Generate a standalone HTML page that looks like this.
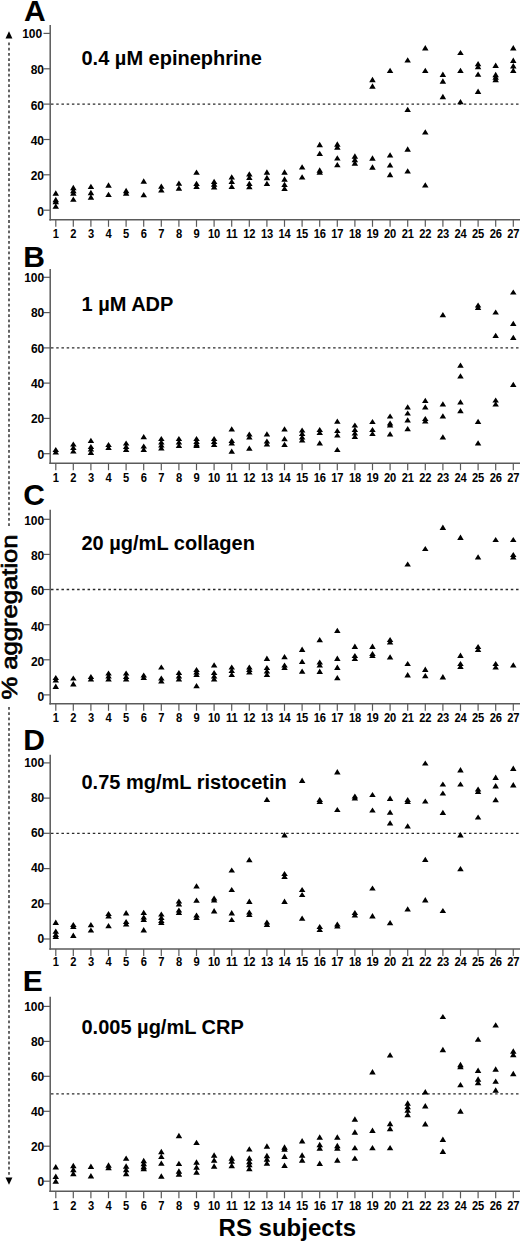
<!DOCTYPE html>
<html><head><meta charset="utf-8"><style>
html,body{margin:0;padding:0;background:#fff;}
body{width:520px;height:1241px;overflow:hidden;}
svg{display:block;}
text{font-family:"Liberation Sans", sans-serif;}
</style></head><body>
<svg width="520" height="1241" viewBox="0 0 520 1241">
<rect width="520" height="1241" fill="#fff"/>
<text transform="translate(23.9,20.8)" font-size="30" font-weight="bold" fill="#000">A</text>
<line x1="50.2" y1="25.0" x2="50.2" y2="220.6" stroke="#5a5a5a" stroke-width="1.5"/>
<line x1="49.4" y1="219.8" x2="520" y2="219.8" stroke="#5a5a5a" stroke-width="1.5"/>
<line x1="43.5" y1="210.2" x2="50" y2="210.2" stroke="#5a5a5a" stroke-width="1.2"/>
<text x="44.0" y="215.8" font-size="12" font-weight="bold" text-anchor="end" fill="#000">0</text>
<line x1="43.5" y1="174.8" x2="50" y2="174.8" stroke="#5a5a5a" stroke-width="1.2"/>
<text x="44.0" y="180.4" font-size="12" font-weight="bold" text-anchor="end" fill="#000">20</text>
<line x1="43.5" y1="139.5" x2="50" y2="139.5" stroke="#5a5a5a" stroke-width="1.2"/>
<text x="44.0" y="145.1" font-size="12" font-weight="bold" text-anchor="end" fill="#000">40</text>
<line x1="43.5" y1="104.1" x2="50" y2="104.1" stroke="#5a5a5a" stroke-width="1.2"/>
<text x="44.0" y="109.7" font-size="12" font-weight="bold" text-anchor="end" fill="#000">60</text>
<line x1="43.5" y1="68.8" x2="50" y2="68.8" stroke="#5a5a5a" stroke-width="1.2"/>
<text x="44.0" y="74.4" font-size="12" font-weight="bold" text-anchor="end" fill="#000">80</text>
<line x1="43.5" y1="33.4" x2="50" y2="33.4" stroke="#5a5a5a" stroke-width="1.2"/>
<text x="42.2" y="37.9" font-size="12" font-weight="bold" text-anchor="end" fill="#000">100</text>
<line x1="55.8" y1="219.8" x2="55.8" y2="226.8" stroke="#5a5a5a" stroke-width="1.2"/>
<text transform="translate(55.8,238.4) scale(0.93,1)" font-size="12" font-weight="bold" text-anchor="middle" fill="#000" letter-spacing="-0.2">1</text>
<line x1="73.3" y1="219.8" x2="73.3" y2="226.8" stroke="#5a5a5a" stroke-width="1.2"/>
<text transform="translate(73.3,238.4) scale(0.93,1)" font-size="12" font-weight="bold" text-anchor="middle" fill="#000" letter-spacing="-0.2">2</text>
<line x1="90.9" y1="219.8" x2="90.9" y2="226.8" stroke="#5a5a5a" stroke-width="1.2"/>
<text transform="translate(90.9,238.4) scale(0.93,1)" font-size="12" font-weight="bold" text-anchor="middle" fill="#000" letter-spacing="-0.2">3</text>
<line x1="108.5" y1="219.8" x2="108.5" y2="226.8" stroke="#5a5a5a" stroke-width="1.2"/>
<text transform="translate(108.5,238.4) scale(0.93,1)" font-size="12" font-weight="bold" text-anchor="middle" fill="#000" letter-spacing="-0.2">4</text>
<line x1="126.1" y1="219.8" x2="126.1" y2="226.8" stroke="#5a5a5a" stroke-width="1.2"/>
<text transform="translate(126.1,238.4) scale(0.93,1)" font-size="12" font-weight="bold" text-anchor="middle" fill="#000" letter-spacing="-0.2">5</text>
<line x1="143.7" y1="219.8" x2="143.7" y2="226.8" stroke="#5a5a5a" stroke-width="1.2"/>
<text transform="translate(143.7,238.4) scale(0.93,1)" font-size="12" font-weight="bold" text-anchor="middle" fill="#000" letter-spacing="-0.2">6</text>
<line x1="161.3" y1="219.8" x2="161.3" y2="226.8" stroke="#5a5a5a" stroke-width="1.2"/>
<text transform="translate(161.3,238.4) scale(0.93,1)" font-size="12" font-weight="bold" text-anchor="middle" fill="#000" letter-spacing="-0.2">7</text>
<line x1="178.9" y1="219.8" x2="178.9" y2="226.8" stroke="#5a5a5a" stroke-width="1.2"/>
<text transform="translate(178.9,238.4) scale(0.93,1)" font-size="12" font-weight="bold" text-anchor="middle" fill="#000" letter-spacing="-0.2">8</text>
<line x1="196.5" y1="219.8" x2="196.5" y2="226.8" stroke="#5a5a5a" stroke-width="1.2"/>
<text transform="translate(196.5,238.4) scale(0.93,1)" font-size="12" font-weight="bold" text-anchor="middle" fill="#000" letter-spacing="-0.2">9</text>
<line x1="214.1" y1="219.8" x2="214.1" y2="226.8" stroke="#5a5a5a" stroke-width="1.2"/>
<text transform="translate(214.1,238.4) scale(0.93,1)" font-size="12" font-weight="bold" text-anchor="middle" fill="#000" letter-spacing="-0.2">10</text>
<line x1="231.7" y1="219.8" x2="231.7" y2="226.8" stroke="#5a5a5a" stroke-width="1.2"/>
<text transform="translate(231.7,238.4) scale(0.93,1)" font-size="12" font-weight="bold" text-anchor="middle" fill="#000" letter-spacing="-0.2">11</text>
<line x1="249.3" y1="219.8" x2="249.3" y2="226.8" stroke="#5a5a5a" stroke-width="1.2"/>
<text transform="translate(249.3,238.4) scale(0.93,1)" font-size="12" font-weight="bold" text-anchor="middle" fill="#000" letter-spacing="-0.2">12</text>
<line x1="266.9" y1="219.8" x2="266.9" y2="226.8" stroke="#5a5a5a" stroke-width="1.2"/>
<text transform="translate(266.9,238.4) scale(0.93,1)" font-size="12" font-weight="bold" text-anchor="middle" fill="#000" letter-spacing="-0.2">13</text>
<line x1="284.5" y1="219.8" x2="284.5" y2="226.8" stroke="#5a5a5a" stroke-width="1.2"/>
<text transform="translate(284.5,238.4) scale(0.93,1)" font-size="12" font-weight="bold" text-anchor="middle" fill="#000" letter-spacing="-0.2">14</text>
<line x1="302.1" y1="219.8" x2="302.1" y2="226.8" stroke="#5a5a5a" stroke-width="1.2"/>
<text transform="translate(302.1,238.4) scale(0.93,1)" font-size="12" font-weight="bold" text-anchor="middle" fill="#000" letter-spacing="-0.2">15</text>
<line x1="319.7" y1="219.8" x2="319.7" y2="226.8" stroke="#5a5a5a" stroke-width="1.2"/>
<text transform="translate(319.7,238.4) scale(0.93,1)" font-size="12" font-weight="bold" text-anchor="middle" fill="#000" letter-spacing="-0.2">16</text>
<line x1="337.3" y1="219.8" x2="337.3" y2="226.8" stroke="#5a5a5a" stroke-width="1.2"/>
<text transform="translate(337.3,238.4) scale(0.93,1)" font-size="12" font-weight="bold" text-anchor="middle" fill="#000" letter-spacing="-0.2">17</text>
<line x1="354.9" y1="219.8" x2="354.9" y2="226.8" stroke="#5a5a5a" stroke-width="1.2"/>
<text transform="translate(354.9,238.4) scale(0.93,1)" font-size="12" font-weight="bold" text-anchor="middle" fill="#000" letter-spacing="-0.2">18</text>
<line x1="372.5" y1="219.8" x2="372.5" y2="226.8" stroke="#5a5a5a" stroke-width="1.2"/>
<text transform="translate(372.5,238.4) scale(0.93,1)" font-size="12" font-weight="bold" text-anchor="middle" fill="#000" letter-spacing="-0.2">19</text>
<line x1="390.1" y1="219.8" x2="390.1" y2="226.8" stroke="#5a5a5a" stroke-width="1.2"/>
<text transform="translate(390.1,238.4) scale(0.93,1)" font-size="12" font-weight="bold" text-anchor="middle" fill="#000" letter-spacing="-0.2">20</text>
<line x1="407.7" y1="219.8" x2="407.7" y2="226.8" stroke="#5a5a5a" stroke-width="1.2"/>
<text transform="translate(407.7,238.4) scale(0.93,1)" font-size="12" font-weight="bold" text-anchor="middle" fill="#000" letter-spacing="-0.2">21</text>
<line x1="425.3" y1="219.8" x2="425.3" y2="226.8" stroke="#5a5a5a" stroke-width="1.2"/>
<text transform="translate(425.3,238.4) scale(0.93,1)" font-size="12" font-weight="bold" text-anchor="middle" fill="#000" letter-spacing="-0.2">22</text>
<line x1="442.9" y1="219.8" x2="442.9" y2="226.8" stroke="#5a5a5a" stroke-width="1.2"/>
<text transform="translate(442.9,238.4) scale(0.93,1)" font-size="12" font-weight="bold" text-anchor="middle" fill="#000" letter-spacing="-0.2">23</text>
<line x1="460.5" y1="219.8" x2="460.5" y2="226.8" stroke="#5a5a5a" stroke-width="1.2"/>
<text transform="translate(460.5,238.4) scale(0.93,1)" font-size="12" font-weight="bold" text-anchor="middle" fill="#000" letter-spacing="-0.2">24</text>
<line x1="478.1" y1="219.8" x2="478.1" y2="226.8" stroke="#5a5a5a" stroke-width="1.2"/>
<text transform="translate(478.1,238.4) scale(0.93,1)" font-size="12" font-weight="bold" text-anchor="middle" fill="#000" letter-spacing="-0.2">25</text>
<line x1="495.7" y1="219.8" x2="495.7" y2="226.8" stroke="#5a5a5a" stroke-width="1.2"/>
<text transform="translate(495.7,238.4) scale(0.93,1)" font-size="12" font-weight="bold" text-anchor="middle" fill="#000" letter-spacing="-0.2">26</text>
<line x1="513.3" y1="219.8" x2="513.3" y2="226.8" stroke="#5a5a5a" stroke-width="1.2"/>
<text transform="translate(513.3,238.4) scale(0.93,1)" font-size="12" font-weight="bold" text-anchor="middle" fill="#000" letter-spacing="-0.2">27</text>
<line x1="51" y1="104.1" x2="520" y2="104.1" stroke="#2a2a2a" stroke-width="1.3" stroke-dasharray="2.5 2.725"/>
<text x="81.5" y="65.4" font-size="20" font-weight="bold" fill="#000">0.4 µM epinephrine</text>
<path d="M55.8 190.3L59.0 195.7L52.5 195.7ZM55.8 196.8L59.0 202.2L52.5 202.2ZM55.8 198.8L59.0 204.2L52.5 204.2ZM55.8 203.5L59.0 208.8L52.5 208.8ZM73.3 184.8L76.6 190.2L70.1 190.2ZM73.3 187.8L76.6 193.2L70.1 193.2ZM73.3 190.3L76.6 195.7L70.1 195.7ZM73.3 196.5L76.6 201.8L70.1 201.8ZM90.9 183.7L94.2 189.0L87.7 189.0ZM90.9 189.8L94.2 195.2L87.7 195.2ZM90.9 194.3L94.2 199.7L87.7 199.7ZM108.5 182.3L111.8 187.7L105.3 187.7ZM108.5 191.8L111.8 197.1L105.3 197.1ZM126.1 187.8L129.4 193.2L122.9 193.2ZM126.1 190.3L129.4 195.7L122.9 195.7ZM143.7 178.3L147.0 183.7L140.5 183.7ZM143.7 192.0L147.0 197.3L140.5 197.3ZM161.3 183.4L164.6 188.8L158.1 188.8ZM161.3 187.2L164.6 192.6L158.1 192.6ZM178.9 180.5L182.2 185.8L175.7 185.8ZM178.9 185.3L182.2 190.7L175.7 190.7ZM196.5 169.4L199.8 174.8L193.3 174.8ZM196.5 180.8L199.8 186.1L193.3 186.1ZM196.5 183.8L199.8 189.1L193.3 189.1ZM214.1 178.7L217.4 184.0L210.9 184.0ZM214.1 181.3L217.4 186.7L210.9 186.7ZM214.1 184.2L217.4 189.5L210.9 189.5ZM231.7 174.2L235.0 179.5L228.5 179.5ZM231.7 178.8L235.0 184.1L228.5 184.1ZM231.7 183.7L235.0 189.0L228.5 189.0ZM249.3 171.2L252.6 176.5L246.1 176.5ZM249.3 174.7L252.6 180.0L246.1 180.0ZM249.3 180.7L252.6 186.0L246.1 186.0ZM249.3 184.0L252.6 189.3L246.1 189.3ZM266.9 169.3L270.2 174.7L263.7 174.7ZM266.9 174.8L270.2 180.2L263.7 180.2ZM266.9 180.8L270.2 186.1L263.7 186.1ZM284.5 169.3L287.8 174.7L281.3 174.7ZM284.5 176.3L287.8 181.7L281.3 181.7ZM284.5 181.8L287.8 187.1L281.3 187.1ZM284.5 185.7L287.8 191.0L281.3 191.0ZM302.1 164.2L305.4 169.5L298.9 169.5ZM302.1 174.2L305.4 179.5L298.9 179.5ZM319.7 141.8L323.0 147.2L316.5 147.2ZM319.7 150.7L323.0 156.0L316.5 156.0ZM319.7 167.3L323.0 172.7L316.5 172.7ZM319.7 169.3L323.0 174.7L316.5 174.7ZM337.3 141.3L340.6 146.7L334.1 146.7ZM337.3 144.3L340.6 149.7L334.1 149.7ZM337.3 155.2L340.6 160.5L334.1 160.5ZM337.3 161.9L340.6 167.2L334.1 167.2ZM354.9 153.3L358.1 158.7L351.6 158.7ZM354.9 156.8L358.1 162.2L351.6 162.2ZM354.9 160.3L358.1 165.7L351.6 165.7ZM372.5 76.8L375.7 82.2L369.2 82.2ZM372.5 83.3L375.7 88.7L369.2 88.7ZM372.5 155.3L375.7 160.7L369.2 160.7ZM372.5 164.3L375.7 169.7L369.2 169.7ZM390.1 67.8L393.3 73.1L386.8 73.1ZM390.1 152.2L393.3 157.6L386.8 157.6ZM390.1 162.2L393.3 167.6L386.8 167.6ZM390.1 171.8L393.3 177.2L386.8 177.2ZM407.7 57.2L410.9 62.5L404.4 62.5ZM407.7 106.8L410.9 112.1L404.4 112.1ZM407.7 146.3L410.9 151.7L404.4 151.7ZM407.7 168.2L410.9 173.6L404.4 173.6ZM425.3 45.1L428.5 50.4L422.0 50.4ZM425.3 67.8L428.5 73.1L422.0 73.1ZM425.3 129.2L428.5 134.6L422.0 134.6ZM425.3 182.2L428.5 187.5L422.0 187.5ZM442.9 71.6L446.1 77.0L439.6 77.0ZM442.9 78.3L446.1 83.7L439.6 83.7ZM442.9 93.8L446.1 99.2L439.6 99.2ZM460.5 49.9L463.7 55.1L457.2 55.1ZM460.5 67.8L463.7 73.1L457.2 73.1ZM460.5 98.9L463.7 104.2L457.2 104.2ZM478.1 60.9L481.3 66.2L474.8 66.2ZM478.1 63.9L481.3 69.2L474.8 69.2ZM478.1 71.4L481.3 76.8L474.8 76.8ZM478.1 88.5L481.3 93.9L474.8 93.9ZM495.7 62.6L498.9 68.0L492.4 68.0ZM495.7 71.8L498.9 77.2L492.4 77.2ZM495.7 74.3L498.9 79.7L492.4 79.7ZM495.7 76.8L498.9 82.2L492.4 82.2ZM513.3 45.1L516.5 50.4L510.0 50.4ZM513.3 57.6L516.5 62.9L510.0 62.9ZM513.3 63.1L516.5 68.4L510.0 68.4ZM513.3 67.8L516.5 73.1L510.0 73.1Z" fill="#000"/>
<text transform="translate(23.3,266.9)" font-size="30" font-weight="bold" fill="#000">B</text>
<line x1="50.2" y1="269.0" x2="50.2" y2="463.9" stroke="#5a5a5a" stroke-width="1.5"/>
<line x1="49.4" y1="463.2" x2="520" y2="463.2" stroke="#5a5a5a" stroke-width="1.5"/>
<line x1="43.5" y1="453.7" x2="50" y2="453.7" stroke="#5a5a5a" stroke-width="1.2"/>
<text x="44.3" y="458.5" font-size="12" font-weight="bold" text-anchor="end" fill="#000">0</text>
<line x1="43.5" y1="418.4" x2="50" y2="418.4" stroke="#5a5a5a" stroke-width="1.2"/>
<text x="44.3" y="423.2" font-size="12" font-weight="bold" text-anchor="end" fill="#000">20</text>
<line x1="43.5" y1="383.1" x2="50" y2="383.1" stroke="#5a5a5a" stroke-width="1.2"/>
<text x="44.3" y="387.9" font-size="12" font-weight="bold" text-anchor="end" fill="#000">40</text>
<line x1="43.5" y1="347.9" x2="50" y2="347.9" stroke="#5a5a5a" stroke-width="1.2"/>
<text x="44.3" y="352.7" font-size="12" font-weight="bold" text-anchor="end" fill="#000">60</text>
<line x1="43.5" y1="312.6" x2="50" y2="312.6" stroke="#5a5a5a" stroke-width="1.2"/>
<text x="44.3" y="317.4" font-size="12" font-weight="bold" text-anchor="end" fill="#000">80</text>
<line x1="43.5" y1="277.3" x2="50" y2="277.3" stroke="#5a5a5a" stroke-width="1.2"/>
<text x="44.2" y="282.1" font-size="12" font-weight="bold" text-anchor="end" fill="#000">100</text>
<line x1="55.8" y1="463.2" x2="55.8" y2="470.2" stroke="#5a5a5a" stroke-width="1.2"/>
<text transform="translate(55.8,482.2) scale(0.93,1)" font-size="12" font-weight="bold" text-anchor="middle" fill="#000" letter-spacing="-0.2">1</text>
<line x1="73.3" y1="463.2" x2="73.3" y2="470.2" stroke="#5a5a5a" stroke-width="1.2"/>
<text transform="translate(73.3,482.2) scale(0.93,1)" font-size="12" font-weight="bold" text-anchor="middle" fill="#000" letter-spacing="-0.2">2</text>
<line x1="90.9" y1="463.2" x2="90.9" y2="470.2" stroke="#5a5a5a" stroke-width="1.2"/>
<text transform="translate(90.9,482.2) scale(0.93,1)" font-size="12" font-weight="bold" text-anchor="middle" fill="#000" letter-spacing="-0.2">3</text>
<line x1="108.5" y1="463.2" x2="108.5" y2="470.2" stroke="#5a5a5a" stroke-width="1.2"/>
<text transform="translate(108.5,482.2) scale(0.93,1)" font-size="12" font-weight="bold" text-anchor="middle" fill="#000" letter-spacing="-0.2">4</text>
<line x1="126.1" y1="463.2" x2="126.1" y2="470.2" stroke="#5a5a5a" stroke-width="1.2"/>
<text transform="translate(126.1,482.2) scale(0.93,1)" font-size="12" font-weight="bold" text-anchor="middle" fill="#000" letter-spacing="-0.2">5</text>
<line x1="143.7" y1="463.2" x2="143.7" y2="470.2" stroke="#5a5a5a" stroke-width="1.2"/>
<text transform="translate(143.7,482.2) scale(0.93,1)" font-size="12" font-weight="bold" text-anchor="middle" fill="#000" letter-spacing="-0.2">6</text>
<line x1="161.3" y1="463.2" x2="161.3" y2="470.2" stroke="#5a5a5a" stroke-width="1.2"/>
<text transform="translate(161.3,482.2) scale(0.93,1)" font-size="12" font-weight="bold" text-anchor="middle" fill="#000" letter-spacing="-0.2">7</text>
<line x1="178.9" y1="463.2" x2="178.9" y2="470.2" stroke="#5a5a5a" stroke-width="1.2"/>
<text transform="translate(178.9,482.2) scale(0.93,1)" font-size="12" font-weight="bold" text-anchor="middle" fill="#000" letter-spacing="-0.2">8</text>
<line x1="196.5" y1="463.2" x2="196.5" y2="470.2" stroke="#5a5a5a" stroke-width="1.2"/>
<text transform="translate(196.5,482.2) scale(0.93,1)" font-size="12" font-weight="bold" text-anchor="middle" fill="#000" letter-spacing="-0.2">9</text>
<line x1="214.1" y1="463.2" x2="214.1" y2="470.2" stroke="#5a5a5a" stroke-width="1.2"/>
<text transform="translate(214.1,482.2) scale(0.93,1)" font-size="12" font-weight="bold" text-anchor="middle" fill="#000" letter-spacing="-0.2">10</text>
<line x1="231.7" y1="463.2" x2="231.7" y2="470.2" stroke="#5a5a5a" stroke-width="1.2"/>
<text transform="translate(231.7,482.2) scale(0.93,1)" font-size="12" font-weight="bold" text-anchor="middle" fill="#000" letter-spacing="-0.2">11</text>
<line x1="249.3" y1="463.2" x2="249.3" y2="470.2" stroke="#5a5a5a" stroke-width="1.2"/>
<text transform="translate(249.3,482.2) scale(0.93,1)" font-size="12" font-weight="bold" text-anchor="middle" fill="#000" letter-spacing="-0.2">12</text>
<line x1="266.9" y1="463.2" x2="266.9" y2="470.2" stroke="#5a5a5a" stroke-width="1.2"/>
<text transform="translate(266.9,482.2) scale(0.93,1)" font-size="12" font-weight="bold" text-anchor="middle" fill="#000" letter-spacing="-0.2">13</text>
<line x1="284.5" y1="463.2" x2="284.5" y2="470.2" stroke="#5a5a5a" stroke-width="1.2"/>
<text transform="translate(284.5,482.2) scale(0.93,1)" font-size="12" font-weight="bold" text-anchor="middle" fill="#000" letter-spacing="-0.2">14</text>
<line x1="302.1" y1="463.2" x2="302.1" y2="470.2" stroke="#5a5a5a" stroke-width="1.2"/>
<text transform="translate(302.1,482.2) scale(0.93,1)" font-size="12" font-weight="bold" text-anchor="middle" fill="#000" letter-spacing="-0.2">15</text>
<line x1="319.7" y1="463.2" x2="319.7" y2="470.2" stroke="#5a5a5a" stroke-width="1.2"/>
<text transform="translate(319.7,482.2) scale(0.93,1)" font-size="12" font-weight="bold" text-anchor="middle" fill="#000" letter-spacing="-0.2">16</text>
<line x1="337.3" y1="463.2" x2="337.3" y2="470.2" stroke="#5a5a5a" stroke-width="1.2"/>
<text transform="translate(337.3,482.2) scale(0.93,1)" font-size="12" font-weight="bold" text-anchor="middle" fill="#000" letter-spacing="-0.2">17</text>
<line x1="354.9" y1="463.2" x2="354.9" y2="470.2" stroke="#5a5a5a" stroke-width="1.2"/>
<text transform="translate(354.9,482.2) scale(0.93,1)" font-size="12" font-weight="bold" text-anchor="middle" fill="#000" letter-spacing="-0.2">18</text>
<line x1="372.5" y1="463.2" x2="372.5" y2="470.2" stroke="#5a5a5a" stroke-width="1.2"/>
<text transform="translate(372.5,482.2) scale(0.93,1)" font-size="12" font-weight="bold" text-anchor="middle" fill="#000" letter-spacing="-0.2">19</text>
<line x1="390.1" y1="463.2" x2="390.1" y2="470.2" stroke="#5a5a5a" stroke-width="1.2"/>
<text transform="translate(390.1,482.2) scale(0.93,1)" font-size="12" font-weight="bold" text-anchor="middle" fill="#000" letter-spacing="-0.2">20</text>
<line x1="407.7" y1="463.2" x2="407.7" y2="470.2" stroke="#5a5a5a" stroke-width="1.2"/>
<text transform="translate(407.7,482.2) scale(0.93,1)" font-size="12" font-weight="bold" text-anchor="middle" fill="#000" letter-spacing="-0.2">21</text>
<line x1="425.3" y1="463.2" x2="425.3" y2="470.2" stroke="#5a5a5a" stroke-width="1.2"/>
<text transform="translate(425.3,482.2) scale(0.93,1)" font-size="12" font-weight="bold" text-anchor="middle" fill="#000" letter-spacing="-0.2">22</text>
<line x1="442.9" y1="463.2" x2="442.9" y2="470.2" stroke="#5a5a5a" stroke-width="1.2"/>
<text transform="translate(442.9,482.2) scale(0.93,1)" font-size="12" font-weight="bold" text-anchor="middle" fill="#000" letter-spacing="-0.2">23</text>
<line x1="460.5" y1="463.2" x2="460.5" y2="470.2" stroke="#5a5a5a" stroke-width="1.2"/>
<text transform="translate(460.5,482.2) scale(0.93,1)" font-size="12" font-weight="bold" text-anchor="middle" fill="#000" letter-spacing="-0.2">24</text>
<line x1="478.1" y1="463.2" x2="478.1" y2="470.2" stroke="#5a5a5a" stroke-width="1.2"/>
<text transform="translate(478.1,482.2) scale(0.93,1)" font-size="12" font-weight="bold" text-anchor="middle" fill="#000" letter-spacing="-0.2">25</text>
<line x1="495.7" y1="463.2" x2="495.7" y2="470.2" stroke="#5a5a5a" stroke-width="1.2"/>
<text transform="translate(495.7,482.2) scale(0.93,1)" font-size="12" font-weight="bold" text-anchor="middle" fill="#000" letter-spacing="-0.2">26</text>
<line x1="513.3" y1="463.2" x2="513.3" y2="470.2" stroke="#5a5a5a" stroke-width="1.2"/>
<text transform="translate(513.3,482.2) scale(0.93,1)" font-size="12" font-weight="bold" text-anchor="middle" fill="#000" letter-spacing="-0.2">27</text>
<line x1="51" y1="347.9" x2="520" y2="347.9" stroke="#2a2a2a" stroke-width="1.3" stroke-dasharray="2.5 2.725"/>
<text x="81.5" y="310.6" font-size="20" font-weight="bold" fill="#000">1 µM ADP</text>
<path d="M55.8 446.9L59.0 452.1L52.5 452.1ZM55.8 449.4L59.0 454.6L52.5 454.6ZM73.3 441.4L76.6 446.6L70.1 446.6ZM73.3 444.9L76.6 450.1L70.1 450.1ZM73.3 448.4L76.6 453.6L70.1 453.6ZM90.9 437.7L94.2 442.9L87.7 442.9ZM90.9 443.9L94.2 449.1L87.7 449.1ZM90.9 446.4L94.2 451.6L87.7 451.6ZM90.9 449.7L94.2 454.9L87.7 454.9ZM108.5 441.9L111.8 447.1L105.3 447.1ZM108.5 444.9L111.8 450.1L105.3 450.1ZM126.1 440.4L129.4 445.6L122.9 445.6ZM126.1 443.9L129.4 449.1L122.9 449.1ZM126.1 446.9L129.4 452.1L122.9 452.1ZM143.7 434.0L147.0 439.2L140.5 439.2ZM143.7 443.4L147.0 448.6L140.5 448.6ZM143.7 446.9L147.0 452.1L140.5 452.1ZM161.3 435.9L164.6 441.1L158.1 441.1ZM161.3 439.4L164.6 444.6L158.1 444.6ZM161.3 442.4L164.6 447.6L158.1 447.6ZM161.3 445.4L164.6 450.6L158.1 450.6ZM178.9 435.9L182.2 441.1L175.7 441.1ZM178.9 439.4L182.2 444.6L175.7 444.6ZM178.9 442.9L182.2 448.1L175.7 448.1ZM196.5 435.9L199.8 441.1L193.3 441.1ZM196.5 438.9L199.8 444.1L193.3 444.1ZM196.5 441.4L199.8 446.6L193.3 446.6ZM196.5 442.9L199.8 448.1L193.3 448.1ZM214.1 435.9L217.4 441.1L210.9 441.1ZM214.1 438.9L217.4 444.1L210.9 444.1ZM214.1 441.9L217.4 447.1L210.9 447.1ZM231.7 426.2L235.0 431.4L228.5 431.4ZM231.7 437.9L235.0 443.1L228.5 443.1ZM231.7 440.4L235.0 445.6L228.5 445.6ZM231.7 448.6L235.0 453.8L228.5 453.8ZM249.3 431.4L252.6 436.6L246.1 436.6ZM249.3 434.4L252.6 439.6L246.1 439.6ZM249.3 445.5L252.6 450.8L246.1 450.8ZM266.9 431.2L270.2 436.4L263.7 436.4ZM266.9 438.4L270.2 443.6L263.7 443.6ZM266.9 441.4L270.2 446.6L263.7 446.6ZM284.5 426.2L287.8 431.4L281.3 431.4ZM284.5 436.1L287.8 441.3L281.3 441.3ZM284.5 441.7L287.8 446.9L281.3 446.9ZM302.1 427.4L305.4 432.6L298.9 432.6ZM302.1 430.9L305.4 436.1L298.9 436.1ZM302.1 434.4L305.4 439.6L298.9 439.6ZM302.1 437.4L305.4 442.6L298.9 442.6ZM319.7 426.9L323.0 432.1L316.5 432.1ZM319.7 429.9L323.0 435.1L316.5 435.1ZM319.7 440.2L323.0 445.4L316.5 445.4ZM337.3 418.5L340.6 423.8L334.1 423.8ZM337.3 427.9L340.6 433.1L334.1 433.1ZM337.3 432.4L340.6 437.6L334.1 437.6ZM337.3 446.9L340.6 452.1L334.1 452.1ZM354.9 422.4L358.1 427.6L351.6 427.6ZM354.9 426.9L358.1 432.1L351.6 432.1ZM354.9 430.4L358.1 435.6L351.6 435.6ZM354.9 433.9L358.1 439.1L351.6 439.1ZM372.5 418.9L375.7 424.1L369.2 424.1ZM372.5 426.9L375.7 432.1L369.2 432.1ZM372.5 430.9L375.7 436.1L369.2 436.1ZM390.1 413.4L393.3 418.6L386.8 418.6ZM390.1 420.4L393.3 425.6L386.8 425.6ZM390.1 422.4L393.3 427.6L386.8 427.6ZM390.1 431.2L393.3 436.4L386.8 436.4ZM407.7 404.2L410.9 409.4L404.4 409.4ZM407.7 410.4L410.9 415.6L404.4 415.6ZM407.7 417.2L410.9 422.4L404.4 422.4ZM407.7 426.1L410.9 431.3L404.4 431.3ZM425.3 397.7L428.5 402.9L422.0 402.9ZM425.3 404.2L428.5 409.5L422.0 409.5ZM425.3 415.9L428.5 421.1L422.0 421.1ZM425.3 418.4L428.5 423.6L422.0 423.6ZM442.9 312.0L446.1 317.2L439.6 317.2ZM442.9 401.2L446.1 406.4L439.6 406.4ZM442.9 413.2L446.1 418.5L439.6 418.5ZM442.9 434.2L446.1 439.5L439.6 439.5ZM460.5 362.5L463.7 367.8L457.2 367.8ZM460.5 373.2L463.7 378.5L457.2 378.5ZM460.5 399.2L463.7 404.4L457.2 404.4ZM460.5 408.1L463.7 413.3L457.2 413.3ZM478.1 302.4L481.3 307.6L474.8 307.6ZM478.1 304.9L481.3 310.1L474.8 310.1ZM478.1 418.7L481.3 423.9L474.8 423.9ZM478.1 440.2L481.3 445.4L474.8 445.4ZM495.7 309.4L498.9 314.6L492.4 314.6ZM495.7 332.7L498.9 337.9L492.4 337.9ZM495.7 397.4L498.9 402.6L492.4 402.6ZM495.7 401.4L498.9 406.6L492.4 406.6ZM513.3 289.4L516.5 294.6L510.0 294.6ZM513.3 320.8L516.5 326.0L510.0 326.0ZM513.3 334.7L516.5 339.9L510.0 339.9ZM513.3 381.7L516.5 386.9L510.0 386.9Z" fill="#000"/>
<text transform="translate(23.3,505.4)" font-size="30" font-weight="bold" fill="#000">C</text>
<line x1="50.2" y1="509.7" x2="50.2" y2="704.5" stroke="#5a5a5a" stroke-width="1.5"/>
<line x1="49.4" y1="703.8" x2="520" y2="703.8" stroke="#5a5a5a" stroke-width="1.5"/>
<line x1="43.5" y1="694.9" x2="50" y2="694.9" stroke="#5a5a5a" stroke-width="1.2"/>
<text x="44.3" y="700.7" font-size="12" font-weight="bold" text-anchor="end" fill="#000">0</text>
<line x1="43.5" y1="659.8" x2="50" y2="659.8" stroke="#5a5a5a" stroke-width="1.2"/>
<text x="44.3" y="665.6" font-size="12" font-weight="bold" text-anchor="end" fill="#000">20</text>
<line x1="43.5" y1="624.7" x2="50" y2="624.7" stroke="#5a5a5a" stroke-width="1.2"/>
<text x="44.3" y="630.5" font-size="12" font-weight="bold" text-anchor="end" fill="#000">40</text>
<line x1="43.5" y1="589.5" x2="50" y2="589.5" stroke="#5a5a5a" stroke-width="1.2"/>
<text x="44.3" y="595.3" font-size="12" font-weight="bold" text-anchor="end" fill="#000">60</text>
<line x1="43.5" y1="554.4" x2="50" y2="554.4" stroke="#5a5a5a" stroke-width="1.2"/>
<text x="44.3" y="560.2" font-size="12" font-weight="bold" text-anchor="end" fill="#000">80</text>
<line x1="43.5" y1="519.3" x2="50" y2="519.3" stroke="#5a5a5a" stroke-width="1.2"/>
<text x="44.2" y="525.1" font-size="12" font-weight="bold" text-anchor="end" fill="#000">100</text>
<line x1="55.8" y1="703.8" x2="55.8" y2="710.8" stroke="#5a5a5a" stroke-width="1.2"/>
<text transform="translate(55.8,722.4) scale(0.93,1)" font-size="12" font-weight="bold" text-anchor="middle" fill="#000" letter-spacing="-0.2">1</text>
<line x1="73.3" y1="703.8" x2="73.3" y2="710.8" stroke="#5a5a5a" stroke-width="1.2"/>
<text transform="translate(73.3,722.4) scale(0.93,1)" font-size="12" font-weight="bold" text-anchor="middle" fill="#000" letter-spacing="-0.2">2</text>
<line x1="90.9" y1="703.8" x2="90.9" y2="710.8" stroke="#5a5a5a" stroke-width="1.2"/>
<text transform="translate(90.9,722.4) scale(0.93,1)" font-size="12" font-weight="bold" text-anchor="middle" fill="#000" letter-spacing="-0.2">3</text>
<line x1="108.5" y1="703.8" x2="108.5" y2="710.8" stroke="#5a5a5a" stroke-width="1.2"/>
<text transform="translate(108.5,722.4) scale(0.93,1)" font-size="12" font-weight="bold" text-anchor="middle" fill="#000" letter-spacing="-0.2">4</text>
<line x1="126.1" y1="703.8" x2="126.1" y2="710.8" stroke="#5a5a5a" stroke-width="1.2"/>
<text transform="translate(126.1,722.4) scale(0.93,1)" font-size="12" font-weight="bold" text-anchor="middle" fill="#000" letter-spacing="-0.2">5</text>
<line x1="143.7" y1="703.8" x2="143.7" y2="710.8" stroke="#5a5a5a" stroke-width="1.2"/>
<text transform="translate(143.7,722.4) scale(0.93,1)" font-size="12" font-weight="bold" text-anchor="middle" fill="#000" letter-spacing="-0.2">6</text>
<line x1="161.3" y1="703.8" x2="161.3" y2="710.8" stroke="#5a5a5a" stroke-width="1.2"/>
<text transform="translate(161.3,722.4) scale(0.93,1)" font-size="12" font-weight="bold" text-anchor="middle" fill="#000" letter-spacing="-0.2">7</text>
<line x1="178.9" y1="703.8" x2="178.9" y2="710.8" stroke="#5a5a5a" stroke-width="1.2"/>
<text transform="translate(178.9,722.4) scale(0.93,1)" font-size="12" font-weight="bold" text-anchor="middle" fill="#000" letter-spacing="-0.2">8</text>
<line x1="196.5" y1="703.8" x2="196.5" y2="710.8" stroke="#5a5a5a" stroke-width="1.2"/>
<text transform="translate(196.5,722.4) scale(0.93,1)" font-size="12" font-weight="bold" text-anchor="middle" fill="#000" letter-spacing="-0.2">9</text>
<line x1="214.1" y1="703.8" x2="214.1" y2="710.8" stroke="#5a5a5a" stroke-width="1.2"/>
<text transform="translate(214.1,722.4) scale(0.93,1)" font-size="12" font-weight="bold" text-anchor="middle" fill="#000" letter-spacing="-0.2">10</text>
<line x1="231.7" y1="703.8" x2="231.7" y2="710.8" stroke="#5a5a5a" stroke-width="1.2"/>
<text transform="translate(231.7,722.4) scale(0.93,1)" font-size="12" font-weight="bold" text-anchor="middle" fill="#000" letter-spacing="-0.2">11</text>
<line x1="249.3" y1="703.8" x2="249.3" y2="710.8" stroke="#5a5a5a" stroke-width="1.2"/>
<text transform="translate(249.3,722.4) scale(0.93,1)" font-size="12" font-weight="bold" text-anchor="middle" fill="#000" letter-spacing="-0.2">12</text>
<line x1="266.9" y1="703.8" x2="266.9" y2="710.8" stroke="#5a5a5a" stroke-width="1.2"/>
<text transform="translate(266.9,722.4) scale(0.93,1)" font-size="12" font-weight="bold" text-anchor="middle" fill="#000" letter-spacing="-0.2">13</text>
<line x1="284.5" y1="703.8" x2="284.5" y2="710.8" stroke="#5a5a5a" stroke-width="1.2"/>
<text transform="translate(284.5,722.4) scale(0.93,1)" font-size="12" font-weight="bold" text-anchor="middle" fill="#000" letter-spacing="-0.2">14</text>
<line x1="302.1" y1="703.8" x2="302.1" y2="710.8" stroke="#5a5a5a" stroke-width="1.2"/>
<text transform="translate(302.1,722.4) scale(0.93,1)" font-size="12" font-weight="bold" text-anchor="middle" fill="#000" letter-spacing="-0.2">15</text>
<line x1="319.7" y1="703.8" x2="319.7" y2="710.8" stroke="#5a5a5a" stroke-width="1.2"/>
<text transform="translate(319.7,722.4) scale(0.93,1)" font-size="12" font-weight="bold" text-anchor="middle" fill="#000" letter-spacing="-0.2">16</text>
<line x1="337.3" y1="703.8" x2="337.3" y2="710.8" stroke="#5a5a5a" stroke-width="1.2"/>
<text transform="translate(337.3,722.4) scale(0.93,1)" font-size="12" font-weight="bold" text-anchor="middle" fill="#000" letter-spacing="-0.2">17</text>
<line x1="354.9" y1="703.8" x2="354.9" y2="710.8" stroke="#5a5a5a" stroke-width="1.2"/>
<text transform="translate(354.9,722.4) scale(0.93,1)" font-size="12" font-weight="bold" text-anchor="middle" fill="#000" letter-spacing="-0.2">18</text>
<line x1="372.5" y1="703.8" x2="372.5" y2="710.8" stroke="#5a5a5a" stroke-width="1.2"/>
<text transform="translate(372.5,722.4) scale(0.93,1)" font-size="12" font-weight="bold" text-anchor="middle" fill="#000" letter-spacing="-0.2">19</text>
<line x1="390.1" y1="703.8" x2="390.1" y2="710.8" stroke="#5a5a5a" stroke-width="1.2"/>
<text transform="translate(390.1,722.4) scale(0.93,1)" font-size="12" font-weight="bold" text-anchor="middle" fill="#000" letter-spacing="-0.2">20</text>
<line x1="407.7" y1="703.8" x2="407.7" y2="710.8" stroke="#5a5a5a" stroke-width="1.2"/>
<text transform="translate(407.7,722.4) scale(0.93,1)" font-size="12" font-weight="bold" text-anchor="middle" fill="#000" letter-spacing="-0.2">21</text>
<line x1="425.3" y1="703.8" x2="425.3" y2="710.8" stroke="#5a5a5a" stroke-width="1.2"/>
<text transform="translate(425.3,722.4) scale(0.93,1)" font-size="12" font-weight="bold" text-anchor="middle" fill="#000" letter-spacing="-0.2">22</text>
<line x1="442.9" y1="703.8" x2="442.9" y2="710.8" stroke="#5a5a5a" stroke-width="1.2"/>
<text transform="translate(442.9,722.4) scale(0.93,1)" font-size="12" font-weight="bold" text-anchor="middle" fill="#000" letter-spacing="-0.2">23</text>
<line x1="460.5" y1="703.8" x2="460.5" y2="710.8" stroke="#5a5a5a" stroke-width="1.2"/>
<text transform="translate(460.5,722.4) scale(0.93,1)" font-size="12" font-weight="bold" text-anchor="middle" fill="#000" letter-spacing="-0.2">24</text>
<line x1="478.1" y1="703.8" x2="478.1" y2="710.8" stroke="#5a5a5a" stroke-width="1.2"/>
<text transform="translate(478.1,722.4) scale(0.93,1)" font-size="12" font-weight="bold" text-anchor="middle" fill="#000" letter-spacing="-0.2">25</text>
<line x1="495.7" y1="703.8" x2="495.7" y2="710.8" stroke="#5a5a5a" stroke-width="1.2"/>
<text transform="translate(495.7,722.4) scale(0.93,1)" font-size="12" font-weight="bold" text-anchor="middle" fill="#000" letter-spacing="-0.2">26</text>
<line x1="513.3" y1="703.8" x2="513.3" y2="710.8" stroke="#5a5a5a" stroke-width="1.2"/>
<text transform="translate(513.3,722.4) scale(0.93,1)" font-size="12" font-weight="bold" text-anchor="middle" fill="#000" letter-spacing="-0.2">27</text>
<line x1="51" y1="589.5" x2="520" y2="589.5" stroke="#2a2a2a" stroke-width="1.3" stroke-dasharray="2.5 2.725"/>
<text x="81.5" y="549.6" font-size="20" font-weight="bold" fill="#000">20 µg/mL collagen</text>
<path d="M55.8 674.9L59.0 680.1L52.5 680.1ZM55.8 677.4L59.0 682.6L52.5 682.6ZM55.8 683.6L59.0 688.9L52.5 688.9ZM73.3 675.4L76.6 680.6L70.1 680.6ZM73.3 681.1L76.6 686.4L70.1 686.4ZM90.9 673.9L94.2 679.1L87.7 679.1ZM90.9 676.4L94.2 681.6L87.7 681.6ZM108.5 670.4L111.8 675.6L105.3 675.6ZM108.5 673.4L111.8 678.6L105.3 678.6ZM108.5 676.4L111.8 681.6L105.3 681.6ZM126.1 670.4L129.4 675.6L122.9 675.6ZM126.1 673.9L129.4 679.1L122.9 679.1ZM126.1 676.4L129.4 681.6L122.9 681.6ZM143.7 672.4L147.0 677.6L140.5 677.6ZM143.7 674.9L147.0 680.1L140.5 680.1ZM161.3 664.4L164.6 669.6L158.1 669.6ZM161.3 675.4L164.6 680.6L158.1 680.6ZM161.3 678.4L164.6 683.6L158.1 683.6ZM178.9 669.9L182.2 675.1L175.7 675.1ZM178.9 673.4L182.2 678.6L175.7 678.6ZM178.9 676.4L182.2 681.6L175.7 681.6ZM196.5 666.9L199.8 672.1L193.3 672.1ZM196.5 669.4L199.8 674.6L193.3 674.6ZM196.5 671.9L199.8 677.1L193.3 677.1ZM196.5 683.0L199.8 688.2L193.3 688.2ZM214.1 662.2L217.4 667.5L210.9 667.5ZM214.1 669.9L217.4 675.1L210.9 675.1ZM214.1 673.4L217.4 678.6L210.9 678.6ZM214.1 676.4L217.4 681.6L210.9 681.6ZM231.7 664.4L235.0 669.6L228.5 669.6ZM231.7 667.9L235.0 673.1L228.5 673.1ZM231.7 671.9L235.0 677.1L228.5 677.1ZM249.3 664.4L252.6 669.6L246.1 669.6ZM249.3 666.9L252.6 672.1L246.1 672.1ZM249.3 669.4L252.6 674.6L246.1 674.6ZM266.9 655.6L270.2 660.9L263.7 660.9ZM266.9 664.9L270.2 670.1L263.7 670.1ZM266.9 668.4L270.2 673.6L263.7 673.6ZM266.9 671.9L270.2 677.1L263.7 677.1ZM284.5 654.0L287.8 659.2L281.3 659.2ZM284.5 662.4L287.8 667.6L281.3 667.6ZM284.5 664.9L287.8 670.1L281.3 670.1ZM302.1 646.6L305.4 651.9L298.9 651.9ZM302.1 658.8L305.4 664.0L298.9 664.0ZM302.1 668.5L305.4 673.8L298.9 673.8ZM319.7 637.0L323.0 642.2L316.5 642.2ZM319.7 659.4L323.0 664.6L316.5 664.6ZM319.7 662.4L323.0 667.6L316.5 667.6ZM319.7 668.6L323.0 673.9L316.5 673.9ZM337.3 627.8L340.6 633.0L334.1 633.0ZM337.3 655.6L340.6 660.9L334.1 660.9ZM337.3 664.6L340.6 669.9L334.1 669.9ZM337.3 675.0L340.6 680.2L334.1 680.2ZM354.9 643.6L358.1 648.9L351.6 648.9ZM354.9 652.9L358.1 658.1L351.6 658.1ZM354.9 655.9L358.1 661.1L351.6 661.1ZM372.5 643.6L375.7 648.9L369.2 648.9ZM372.5 650.9L375.7 656.1L369.2 656.1ZM372.5 652.9L375.7 658.1L369.2 658.1ZM390.1 636.9L393.3 642.1L386.8 642.1ZM390.1 639.4L393.3 644.6L386.8 644.6ZM390.1 654.2L393.3 659.5L386.8 659.5ZM407.7 561.4L410.9 566.6L404.4 566.6ZM407.7 660.9L410.9 666.1L404.4 666.1ZM407.7 672.1L410.9 677.4L404.4 677.4ZM425.3 545.9L428.5 551.1L422.0 551.1ZM425.3 666.6L428.5 671.9L422.0 671.9ZM425.3 673.0L428.5 678.2L422.0 678.2ZM442.9 524.6L446.1 529.9L439.6 529.9ZM442.9 674.1L446.1 679.4L439.6 679.4ZM460.5 534.6L463.7 539.9L457.2 539.9ZM460.5 652.6L463.7 657.9L457.2 657.9ZM460.5 660.9L463.7 666.1L457.2 666.1ZM460.5 663.9L463.7 669.1L457.2 669.1ZM478.1 554.2L481.3 559.5L474.8 559.5ZM478.1 643.9L481.3 649.1L474.8 649.1ZM478.1 646.9L481.3 652.1L474.8 652.1ZM495.7 536.9L498.9 542.1L492.4 542.1ZM495.7 660.9L498.9 666.1L492.4 666.1ZM495.7 664.4L498.9 669.6L492.4 669.6ZM513.3 536.9L516.5 542.1L510.0 542.1ZM513.3 551.9L516.5 557.1L510.0 557.1ZM513.3 554.4L516.5 559.6L510.0 559.6ZM513.3 662.2L516.5 667.5L510.0 667.5Z" fill="#000"/>
<text transform="translate(23.3,750.4)" font-size="30" font-weight="bold" fill="#000">D</text>
<line x1="50.2" y1="754.7" x2="50.2" y2="949.8" stroke="#5a5a5a" stroke-width="1.5"/>
<line x1="49.4" y1="949.0" x2="520" y2="949.0" stroke="#5a5a5a" stroke-width="1.5"/>
<line x1="43.5" y1="939.0" x2="50" y2="939.0" stroke="#5a5a5a" stroke-width="1.2"/>
<text x="44.3" y="942.8" font-size="12" font-weight="bold" text-anchor="end" fill="#000">0</text>
<line x1="43.5" y1="903.8" x2="50" y2="903.8" stroke="#5a5a5a" stroke-width="1.2"/>
<text x="44.3" y="907.6" font-size="12" font-weight="bold" text-anchor="end" fill="#000">20</text>
<line x1="43.5" y1="868.6" x2="50" y2="868.6" stroke="#5a5a5a" stroke-width="1.2"/>
<text x="44.3" y="872.4" font-size="12" font-weight="bold" text-anchor="end" fill="#000">40</text>
<line x1="43.5" y1="833.3" x2="50" y2="833.3" stroke="#5a5a5a" stroke-width="1.2"/>
<text x="44.3" y="837.1" font-size="12" font-weight="bold" text-anchor="end" fill="#000">60</text>
<line x1="43.5" y1="798.1" x2="50" y2="798.1" stroke="#5a5a5a" stroke-width="1.2"/>
<text x="44.3" y="801.9" font-size="12" font-weight="bold" text-anchor="end" fill="#000">80</text>
<line x1="43.5" y1="762.9" x2="50" y2="762.9" stroke="#5a5a5a" stroke-width="1.2"/>
<text x="44.2" y="766.7" font-size="12" font-weight="bold" text-anchor="end" fill="#000">100</text>
<line x1="55.8" y1="949.0" x2="55.8" y2="956.0" stroke="#5a5a5a" stroke-width="1.2"/>
<text transform="translate(55.8,966.2) scale(0.93,1)" font-size="12" font-weight="bold" text-anchor="middle" fill="#000" letter-spacing="-0.2">1</text>
<line x1="73.3" y1="949.0" x2="73.3" y2="956.0" stroke="#5a5a5a" stroke-width="1.2"/>
<text transform="translate(73.3,966.2) scale(0.93,1)" font-size="12" font-weight="bold" text-anchor="middle" fill="#000" letter-spacing="-0.2">2</text>
<line x1="90.9" y1="949.0" x2="90.9" y2="956.0" stroke="#5a5a5a" stroke-width="1.2"/>
<text transform="translate(90.9,966.2) scale(0.93,1)" font-size="12" font-weight="bold" text-anchor="middle" fill="#000" letter-spacing="-0.2">3</text>
<line x1="108.5" y1="949.0" x2="108.5" y2="956.0" stroke="#5a5a5a" stroke-width="1.2"/>
<text transform="translate(108.5,966.2) scale(0.93,1)" font-size="12" font-weight="bold" text-anchor="middle" fill="#000" letter-spacing="-0.2">4</text>
<line x1="126.1" y1="949.0" x2="126.1" y2="956.0" stroke="#5a5a5a" stroke-width="1.2"/>
<text transform="translate(126.1,966.2) scale(0.93,1)" font-size="12" font-weight="bold" text-anchor="middle" fill="#000" letter-spacing="-0.2">5</text>
<line x1="143.7" y1="949.0" x2="143.7" y2="956.0" stroke="#5a5a5a" stroke-width="1.2"/>
<text transform="translate(143.7,966.2) scale(0.93,1)" font-size="12" font-weight="bold" text-anchor="middle" fill="#000" letter-spacing="-0.2">6</text>
<line x1="161.3" y1="949.0" x2="161.3" y2="956.0" stroke="#5a5a5a" stroke-width="1.2"/>
<text transform="translate(161.3,966.2) scale(0.93,1)" font-size="12" font-weight="bold" text-anchor="middle" fill="#000" letter-spacing="-0.2">7</text>
<line x1="178.9" y1="949.0" x2="178.9" y2="956.0" stroke="#5a5a5a" stroke-width="1.2"/>
<text transform="translate(178.9,966.2) scale(0.93,1)" font-size="12" font-weight="bold" text-anchor="middle" fill="#000" letter-spacing="-0.2">8</text>
<line x1="196.5" y1="949.0" x2="196.5" y2="956.0" stroke="#5a5a5a" stroke-width="1.2"/>
<text transform="translate(196.5,966.2) scale(0.93,1)" font-size="12" font-weight="bold" text-anchor="middle" fill="#000" letter-spacing="-0.2">9</text>
<line x1="214.1" y1="949.0" x2="214.1" y2="956.0" stroke="#5a5a5a" stroke-width="1.2"/>
<text transform="translate(214.1,966.2) scale(0.93,1)" font-size="12" font-weight="bold" text-anchor="middle" fill="#000" letter-spacing="-0.2">10</text>
<line x1="231.7" y1="949.0" x2="231.7" y2="956.0" stroke="#5a5a5a" stroke-width="1.2"/>
<text transform="translate(231.7,966.2) scale(0.93,1)" font-size="12" font-weight="bold" text-anchor="middle" fill="#000" letter-spacing="-0.2">11</text>
<line x1="249.3" y1="949.0" x2="249.3" y2="956.0" stroke="#5a5a5a" stroke-width="1.2"/>
<text transform="translate(249.3,966.2) scale(0.93,1)" font-size="12" font-weight="bold" text-anchor="middle" fill="#000" letter-spacing="-0.2">12</text>
<line x1="266.9" y1="949.0" x2="266.9" y2="956.0" stroke="#5a5a5a" stroke-width="1.2"/>
<text transform="translate(266.9,966.2) scale(0.93,1)" font-size="12" font-weight="bold" text-anchor="middle" fill="#000" letter-spacing="-0.2">13</text>
<line x1="284.5" y1="949.0" x2="284.5" y2="956.0" stroke="#5a5a5a" stroke-width="1.2"/>
<text transform="translate(284.5,966.2) scale(0.93,1)" font-size="12" font-weight="bold" text-anchor="middle" fill="#000" letter-spacing="-0.2">14</text>
<line x1="302.1" y1="949.0" x2="302.1" y2="956.0" stroke="#5a5a5a" stroke-width="1.2"/>
<text transform="translate(302.1,966.2) scale(0.93,1)" font-size="12" font-weight="bold" text-anchor="middle" fill="#000" letter-spacing="-0.2">15</text>
<line x1="319.7" y1="949.0" x2="319.7" y2="956.0" stroke="#5a5a5a" stroke-width="1.2"/>
<text transform="translate(319.7,966.2) scale(0.93,1)" font-size="12" font-weight="bold" text-anchor="middle" fill="#000" letter-spacing="-0.2">16</text>
<line x1="337.3" y1="949.0" x2="337.3" y2="956.0" stroke="#5a5a5a" stroke-width="1.2"/>
<text transform="translate(337.3,966.2) scale(0.93,1)" font-size="12" font-weight="bold" text-anchor="middle" fill="#000" letter-spacing="-0.2">17</text>
<line x1="354.9" y1="949.0" x2="354.9" y2="956.0" stroke="#5a5a5a" stroke-width="1.2"/>
<text transform="translate(354.9,966.2) scale(0.93,1)" font-size="12" font-weight="bold" text-anchor="middle" fill="#000" letter-spacing="-0.2">18</text>
<line x1="372.5" y1="949.0" x2="372.5" y2="956.0" stroke="#5a5a5a" stroke-width="1.2"/>
<text transform="translate(372.5,966.2) scale(0.93,1)" font-size="12" font-weight="bold" text-anchor="middle" fill="#000" letter-spacing="-0.2">19</text>
<line x1="390.1" y1="949.0" x2="390.1" y2="956.0" stroke="#5a5a5a" stroke-width="1.2"/>
<text transform="translate(390.1,966.2) scale(0.93,1)" font-size="12" font-weight="bold" text-anchor="middle" fill="#000" letter-spacing="-0.2">20</text>
<line x1="407.7" y1="949.0" x2="407.7" y2="956.0" stroke="#5a5a5a" stroke-width="1.2"/>
<text transform="translate(407.7,966.2) scale(0.93,1)" font-size="12" font-weight="bold" text-anchor="middle" fill="#000" letter-spacing="-0.2">21</text>
<line x1="425.3" y1="949.0" x2="425.3" y2="956.0" stroke="#5a5a5a" stroke-width="1.2"/>
<text transform="translate(425.3,966.2) scale(0.93,1)" font-size="12" font-weight="bold" text-anchor="middle" fill="#000" letter-spacing="-0.2">22</text>
<line x1="442.9" y1="949.0" x2="442.9" y2="956.0" stroke="#5a5a5a" stroke-width="1.2"/>
<text transform="translate(442.9,966.2) scale(0.93,1)" font-size="12" font-weight="bold" text-anchor="middle" fill="#000" letter-spacing="-0.2">23</text>
<line x1="460.5" y1="949.0" x2="460.5" y2="956.0" stroke="#5a5a5a" stroke-width="1.2"/>
<text transform="translate(460.5,966.2) scale(0.93,1)" font-size="12" font-weight="bold" text-anchor="middle" fill="#000" letter-spacing="-0.2">24</text>
<line x1="478.1" y1="949.0" x2="478.1" y2="956.0" stroke="#5a5a5a" stroke-width="1.2"/>
<text transform="translate(478.1,966.2) scale(0.93,1)" font-size="12" font-weight="bold" text-anchor="middle" fill="#000" letter-spacing="-0.2">25</text>
<line x1="495.7" y1="949.0" x2="495.7" y2="956.0" stroke="#5a5a5a" stroke-width="1.2"/>
<text transform="translate(495.7,966.2) scale(0.93,1)" font-size="12" font-weight="bold" text-anchor="middle" fill="#000" letter-spacing="-0.2">26</text>
<line x1="513.3" y1="949.0" x2="513.3" y2="956.0" stroke="#5a5a5a" stroke-width="1.2"/>
<text transform="translate(513.3,966.2) scale(0.93,1)" font-size="12" font-weight="bold" text-anchor="middle" fill="#000" letter-spacing="-0.2">27</text>
<line x1="51" y1="833.3" x2="520" y2="833.3" stroke="#2a2a2a" stroke-width="1.3" stroke-dasharray="2.5 2.725"/>
<text x="81.5" y="789.3" font-size="20" font-weight="bold" fill="#000">0.75 mg/mL ristocetin</text>
<path d="M55.8 919.6L59.0 924.9L52.5 924.9ZM55.8 928.5L59.0 933.8L52.5 933.8ZM55.8 931.9L59.0 937.1L52.5 937.1ZM55.8 933.9L59.0 939.1L52.5 939.1ZM73.3 921.9L76.6 927.1L70.1 927.1ZM73.3 923.9L76.6 929.1L70.1 929.1ZM73.3 932.6L76.6 937.9L70.1 937.9ZM90.9 922.0L94.2 927.2L87.7 927.2ZM90.9 927.4L94.2 932.6L87.7 932.6ZM108.5 910.9L111.8 916.1L105.3 916.1ZM108.5 913.4L111.8 918.6L105.3 918.6ZM108.5 923.0L111.8 928.2L105.3 928.2ZM126.1 910.1L129.4 915.4L122.9 915.4ZM126.1 918.9L129.4 924.1L122.9 924.1ZM126.1 921.4L129.4 926.6L122.9 926.6ZM143.7 909.8L147.0 915.0L140.5 915.0ZM143.7 914.4L147.0 919.6L140.5 919.6ZM143.7 916.9L147.0 922.1L140.5 922.1ZM143.7 927.1L147.0 932.4L140.5 932.4ZM161.3 911.4L164.6 916.6L158.1 916.6ZM161.3 914.9L164.6 920.1L158.1 920.1ZM161.3 917.9L164.6 923.1L158.1 923.1ZM161.3 919.9L164.6 925.1L158.1 925.1ZM178.9 898.4L182.2 903.6L175.7 903.6ZM178.9 901.4L182.2 906.6L175.7 906.6ZM178.9 907.4L182.2 912.6L175.7 912.6ZM178.9 909.9L182.2 915.1L175.7 915.1ZM196.5 883.2L199.8 888.5L193.3 888.5ZM196.5 897.5L199.8 902.8L193.3 902.8ZM196.5 912.4L199.8 917.6L193.3 917.6ZM196.5 914.9L199.8 920.1L193.3 920.1ZM214.1 895.4L217.4 900.6L210.9 900.6ZM214.1 897.4L217.4 902.6L210.9 902.6ZM214.1 908.1L217.4 913.4L210.9 913.4ZM231.7 867.4L235.0 872.6L228.5 872.6ZM231.7 886.9L235.0 892.1L228.5 892.1ZM231.7 910.1L235.0 915.4L228.5 915.4ZM231.7 916.9L235.0 922.1L228.5 922.1ZM249.3 857.0L252.6 862.2L246.1 862.2ZM249.3 898.6L252.6 903.9L246.1 903.9ZM249.3 909.4L252.6 914.6L246.1 914.6ZM249.3 911.9L252.6 917.1L246.1 917.1ZM266.9 796.8L270.2 802.0L263.7 802.0ZM266.9 919.4L270.2 924.6L263.7 924.6ZM266.9 921.9L270.2 927.1L263.7 927.1ZM284.5 832.1L287.8 837.4L281.3 837.4ZM284.5 870.9L287.8 876.1L281.3 876.1ZM284.5 873.9L287.8 879.1L281.3 879.1ZM284.5 898.6L287.8 903.9L281.3 903.9ZM302.1 777.6L305.4 782.9L298.9 782.9ZM302.1 886.9L305.4 892.1L298.9 892.1ZM302.1 891.9L305.4 897.1L298.9 897.1ZM302.1 915.5L305.4 920.8L298.9 920.8ZM319.7 796.9L323.0 802.1L316.5 802.1ZM319.7 798.9L323.0 804.1L316.5 804.1ZM319.7 923.9L323.0 929.1L316.5 929.1ZM319.7 926.9L323.0 932.1L316.5 932.1ZM337.3 769.1L340.6 774.4L334.1 774.4ZM337.3 806.9L340.6 812.1L334.1 812.1ZM337.3 921.4L340.6 926.6L334.1 926.6ZM337.3 923.4L340.6 928.6L334.1 928.6ZM354.9 793.4L358.1 798.6L351.6 798.6ZM354.9 795.4L358.1 800.6L351.6 800.6ZM354.9 909.9L358.1 915.1L351.6 915.1ZM354.9 912.4L358.1 917.6L351.6 917.6ZM372.5 791.9L375.7 797.1L369.2 797.1ZM372.5 807.4L375.7 812.6L369.2 812.6ZM372.5 885.4L375.7 890.6L369.2 890.6ZM372.5 913.1L375.7 918.4L369.2 918.4ZM390.1 795.6L393.3 800.9L386.8 800.9ZM390.1 809.5L393.3 814.8L386.8 814.8ZM390.1 820.2L393.3 825.5L386.8 825.5ZM390.1 920.0L393.3 925.2L386.8 925.2ZM407.7 796.9L410.9 802.1L404.4 802.1ZM407.7 798.9L410.9 804.1L404.4 804.1ZM407.7 823.2L410.9 828.5L404.4 828.5ZM407.7 906.2L410.9 911.5L404.4 911.5ZM425.3 760.4L428.5 765.6L422.0 765.6ZM425.3 798.4L428.5 803.6L422.0 803.6ZM425.3 856.8L428.5 862.0L422.0 862.0ZM425.3 897.1L428.5 902.4L422.0 902.4ZM442.9 781.4L446.1 786.6L439.6 786.6ZM442.9 790.4L446.1 795.6L439.6 795.6ZM442.9 809.8L446.1 815.0L439.6 815.0ZM442.9 907.9L446.1 913.1L439.6 913.1ZM460.5 767.1L463.7 772.4L457.2 772.4ZM460.5 781.4L463.7 786.6L457.2 786.6ZM460.5 832.1L463.7 837.4L457.2 837.4ZM460.5 866.0L463.7 871.2L457.2 871.2ZM478.1 786.4L481.3 791.6L474.8 791.6ZM478.1 788.9L481.3 794.1L474.8 794.1ZM478.1 814.4L481.3 819.6L474.8 819.6ZM495.7 774.6L498.9 779.9L492.4 779.9ZM495.7 783.1L498.9 788.4L492.4 788.4ZM495.7 797.0L498.9 802.2L492.4 802.2ZM513.3 765.6L516.5 770.9L510.0 770.9ZM513.3 782.1L516.5 787.4L510.0 787.4Z" fill="#000"/>
<text transform="translate(22.8,990.8)" font-size="30" font-weight="bold" fill="#000">E</text>
<line x1="50.2" y1="996.7" x2="50.2" y2="1192.0" stroke="#5a5a5a" stroke-width="1.5"/>
<line x1="49.4" y1="1191.3" x2="520" y2="1191.3" stroke="#5a5a5a" stroke-width="1.5"/>
<line x1="43.5" y1="1181.2" x2="50" y2="1181.2" stroke="#5a5a5a" stroke-width="1.2"/>
<text x="44.3" y="1186.0" font-size="12" font-weight="bold" text-anchor="end" fill="#000">0</text>
<line x1="43.5" y1="1146.2" x2="50" y2="1146.2" stroke="#5a5a5a" stroke-width="1.2"/>
<text x="44.3" y="1151.0" font-size="12" font-weight="bold" text-anchor="end" fill="#000">20</text>
<line x1="43.5" y1="1111.3" x2="50" y2="1111.3" stroke="#5a5a5a" stroke-width="1.2"/>
<text x="44.3" y="1116.1" font-size="12" font-weight="bold" text-anchor="end" fill="#000">40</text>
<line x1="43.5" y1="1076.3" x2="50" y2="1076.3" stroke="#5a5a5a" stroke-width="1.2"/>
<text x="44.3" y="1081.1" font-size="12" font-weight="bold" text-anchor="end" fill="#000">60</text>
<line x1="43.5" y1="1041.4" x2="50" y2="1041.4" stroke="#5a5a5a" stroke-width="1.2"/>
<text x="44.3" y="1046.2" font-size="12" font-weight="bold" text-anchor="end" fill="#000">80</text>
<line x1="43.5" y1="1006.4" x2="50" y2="1006.4" stroke="#5a5a5a" stroke-width="1.2"/>
<text x="44.2" y="1011.2" font-size="12" font-weight="bold" text-anchor="end" fill="#000">100</text>
<line x1="55.8" y1="1191.3" x2="55.8" y2="1198.3" stroke="#5a5a5a" stroke-width="1.2"/>
<text transform="translate(55.8,1209.8) scale(0.93,1)" font-size="12" font-weight="bold" text-anchor="middle" fill="#000" letter-spacing="-0.2">1</text>
<line x1="73.3" y1="1191.3" x2="73.3" y2="1198.3" stroke="#5a5a5a" stroke-width="1.2"/>
<text transform="translate(73.3,1209.8) scale(0.93,1)" font-size="12" font-weight="bold" text-anchor="middle" fill="#000" letter-spacing="-0.2">2</text>
<line x1="90.9" y1="1191.3" x2="90.9" y2="1198.3" stroke="#5a5a5a" stroke-width="1.2"/>
<text transform="translate(90.9,1209.8) scale(0.93,1)" font-size="12" font-weight="bold" text-anchor="middle" fill="#000" letter-spacing="-0.2">3</text>
<line x1="108.5" y1="1191.3" x2="108.5" y2="1198.3" stroke="#5a5a5a" stroke-width="1.2"/>
<text transform="translate(108.5,1209.8) scale(0.93,1)" font-size="12" font-weight="bold" text-anchor="middle" fill="#000" letter-spacing="-0.2">4</text>
<line x1="126.1" y1="1191.3" x2="126.1" y2="1198.3" stroke="#5a5a5a" stroke-width="1.2"/>
<text transform="translate(126.1,1209.8) scale(0.93,1)" font-size="12" font-weight="bold" text-anchor="middle" fill="#000" letter-spacing="-0.2">5</text>
<line x1="143.7" y1="1191.3" x2="143.7" y2="1198.3" stroke="#5a5a5a" stroke-width="1.2"/>
<text transform="translate(143.7,1209.8) scale(0.93,1)" font-size="12" font-weight="bold" text-anchor="middle" fill="#000" letter-spacing="-0.2">6</text>
<line x1="161.3" y1="1191.3" x2="161.3" y2="1198.3" stroke="#5a5a5a" stroke-width="1.2"/>
<text transform="translate(161.3,1209.8) scale(0.93,1)" font-size="12" font-weight="bold" text-anchor="middle" fill="#000" letter-spacing="-0.2">7</text>
<line x1="178.9" y1="1191.3" x2="178.9" y2="1198.3" stroke="#5a5a5a" stroke-width="1.2"/>
<text transform="translate(178.9,1209.8) scale(0.93,1)" font-size="12" font-weight="bold" text-anchor="middle" fill="#000" letter-spacing="-0.2">8</text>
<line x1="196.5" y1="1191.3" x2="196.5" y2="1198.3" stroke="#5a5a5a" stroke-width="1.2"/>
<text transform="translate(196.5,1209.8) scale(0.93,1)" font-size="12" font-weight="bold" text-anchor="middle" fill="#000" letter-spacing="-0.2">9</text>
<line x1="214.1" y1="1191.3" x2="214.1" y2="1198.3" stroke="#5a5a5a" stroke-width="1.2"/>
<text transform="translate(214.1,1209.8) scale(0.93,1)" font-size="12" font-weight="bold" text-anchor="middle" fill="#000" letter-spacing="-0.2">10</text>
<line x1="231.7" y1="1191.3" x2="231.7" y2="1198.3" stroke="#5a5a5a" stroke-width="1.2"/>
<text transform="translate(231.7,1209.8) scale(0.93,1)" font-size="12" font-weight="bold" text-anchor="middle" fill="#000" letter-spacing="-0.2">11</text>
<line x1="249.3" y1="1191.3" x2="249.3" y2="1198.3" stroke="#5a5a5a" stroke-width="1.2"/>
<text transform="translate(249.3,1209.8) scale(0.93,1)" font-size="12" font-weight="bold" text-anchor="middle" fill="#000" letter-spacing="-0.2">12</text>
<line x1="266.9" y1="1191.3" x2="266.9" y2="1198.3" stroke="#5a5a5a" stroke-width="1.2"/>
<text transform="translate(266.9,1209.8) scale(0.93,1)" font-size="12" font-weight="bold" text-anchor="middle" fill="#000" letter-spacing="-0.2">13</text>
<line x1="284.5" y1="1191.3" x2="284.5" y2="1198.3" stroke="#5a5a5a" stroke-width="1.2"/>
<text transform="translate(284.5,1209.8) scale(0.93,1)" font-size="12" font-weight="bold" text-anchor="middle" fill="#000" letter-spacing="-0.2">14</text>
<line x1="302.1" y1="1191.3" x2="302.1" y2="1198.3" stroke="#5a5a5a" stroke-width="1.2"/>
<text transform="translate(302.1,1209.8) scale(0.93,1)" font-size="12" font-weight="bold" text-anchor="middle" fill="#000" letter-spacing="-0.2">15</text>
<line x1="319.7" y1="1191.3" x2="319.7" y2="1198.3" stroke="#5a5a5a" stroke-width="1.2"/>
<text transform="translate(319.7,1209.8) scale(0.93,1)" font-size="12" font-weight="bold" text-anchor="middle" fill="#000" letter-spacing="-0.2">16</text>
<line x1="337.3" y1="1191.3" x2="337.3" y2="1198.3" stroke="#5a5a5a" stroke-width="1.2"/>
<text transform="translate(337.3,1209.8) scale(0.93,1)" font-size="12" font-weight="bold" text-anchor="middle" fill="#000" letter-spacing="-0.2">17</text>
<line x1="354.9" y1="1191.3" x2="354.9" y2="1198.3" stroke="#5a5a5a" stroke-width="1.2"/>
<text transform="translate(354.9,1209.8) scale(0.93,1)" font-size="12" font-weight="bold" text-anchor="middle" fill="#000" letter-spacing="-0.2">18</text>
<line x1="372.5" y1="1191.3" x2="372.5" y2="1198.3" stroke="#5a5a5a" stroke-width="1.2"/>
<text transform="translate(372.5,1209.8) scale(0.93,1)" font-size="12" font-weight="bold" text-anchor="middle" fill="#000" letter-spacing="-0.2">19</text>
<line x1="390.1" y1="1191.3" x2="390.1" y2="1198.3" stroke="#5a5a5a" stroke-width="1.2"/>
<text transform="translate(390.1,1209.8) scale(0.93,1)" font-size="12" font-weight="bold" text-anchor="middle" fill="#000" letter-spacing="-0.2">20</text>
<line x1="407.7" y1="1191.3" x2="407.7" y2="1198.3" stroke="#5a5a5a" stroke-width="1.2"/>
<text transform="translate(407.7,1209.8) scale(0.93,1)" font-size="12" font-weight="bold" text-anchor="middle" fill="#000" letter-spacing="-0.2">21</text>
<line x1="425.3" y1="1191.3" x2="425.3" y2="1198.3" stroke="#5a5a5a" stroke-width="1.2"/>
<text transform="translate(425.3,1209.8) scale(0.93,1)" font-size="12" font-weight="bold" text-anchor="middle" fill="#000" letter-spacing="-0.2">22</text>
<line x1="442.9" y1="1191.3" x2="442.9" y2="1198.3" stroke="#5a5a5a" stroke-width="1.2"/>
<text transform="translate(442.9,1209.8) scale(0.93,1)" font-size="12" font-weight="bold" text-anchor="middle" fill="#000" letter-spacing="-0.2">23</text>
<line x1="460.5" y1="1191.3" x2="460.5" y2="1198.3" stroke="#5a5a5a" stroke-width="1.2"/>
<text transform="translate(460.5,1209.8) scale(0.93,1)" font-size="12" font-weight="bold" text-anchor="middle" fill="#000" letter-spacing="-0.2">24</text>
<line x1="478.1" y1="1191.3" x2="478.1" y2="1198.3" stroke="#5a5a5a" stroke-width="1.2"/>
<text transform="translate(478.1,1209.8) scale(0.93,1)" font-size="12" font-weight="bold" text-anchor="middle" fill="#000" letter-spacing="-0.2">25</text>
<line x1="495.7" y1="1191.3" x2="495.7" y2="1198.3" stroke="#5a5a5a" stroke-width="1.2"/>
<text transform="translate(495.7,1209.8) scale(0.93,1)" font-size="12" font-weight="bold" text-anchor="middle" fill="#000" letter-spacing="-0.2">26</text>
<line x1="513.3" y1="1191.3" x2="513.3" y2="1198.3" stroke="#5a5a5a" stroke-width="1.2"/>
<text transform="translate(513.3,1209.8) scale(0.93,1)" font-size="12" font-weight="bold" text-anchor="middle" fill="#000" letter-spacing="-0.2">27</text>
<line x1="51" y1="1093.8" x2="520" y2="1093.8" stroke="#2a2a2a" stroke-width="1.3" stroke-dasharray="2.5 2.725"/>
<text x="81.5" y="1034.3" font-size="20" font-weight="bold" fill="#000">0.005 µg/mL CRP</text>
<path d="M55.8 1164.1L59.0 1169.5L52.5 1169.5ZM55.8 1173.6L59.0 1179.0L52.5 1179.0ZM55.8 1178.3L59.0 1183.7L52.5 1183.7ZM73.3 1162.8L76.6 1168.2L70.1 1168.2ZM73.3 1166.8L76.6 1172.2L70.1 1172.2ZM73.3 1170.8L76.6 1176.2L70.1 1176.2ZM90.9 1163.5L94.2 1168.9L87.7 1168.9ZM90.9 1173.1L94.2 1178.5L87.7 1178.5ZM108.5 1162.3L111.8 1167.7L105.3 1167.7ZM108.5 1164.8L111.8 1170.2L105.3 1170.2ZM126.1 1155.4L129.4 1160.8L122.9 1160.8ZM126.1 1163.3L129.4 1168.7L122.9 1168.7ZM126.1 1166.8L129.4 1172.2L122.9 1172.2ZM126.1 1170.8L129.4 1176.2L122.9 1176.2ZM143.7 1157.8L147.0 1163.2L140.5 1163.2ZM143.7 1160.8L147.0 1166.2L140.5 1166.2ZM143.7 1163.8L147.0 1169.2L140.5 1169.2ZM143.7 1165.8L147.0 1171.2L140.5 1171.2ZM161.3 1148.8L164.6 1154.2L158.1 1154.2ZM161.3 1153.8L164.6 1159.1L158.1 1159.1ZM161.3 1160.4L164.6 1165.8L158.1 1165.8ZM161.3 1173.3L164.6 1178.7L158.1 1178.7ZM178.9 1132.8L182.2 1138.2L175.7 1138.2ZM178.9 1160.8L182.2 1166.1L175.7 1166.1ZM178.9 1168.3L182.2 1173.7L175.7 1173.7ZM178.9 1171.3L182.2 1176.7L175.7 1176.7ZM196.5 1139.8L199.8 1145.1L193.3 1145.1ZM196.5 1159.3L199.8 1164.7L193.3 1164.7ZM196.5 1164.3L199.8 1169.7L193.3 1169.7ZM196.5 1169.3L199.8 1174.7L193.3 1174.7ZM214.1 1152.3L217.4 1157.7L210.9 1157.7ZM214.1 1157.3L217.4 1162.7L210.9 1162.7ZM214.1 1163.3L217.4 1168.7L210.9 1168.7ZM231.7 1155.3L235.0 1160.7L228.5 1160.7ZM231.7 1158.3L235.0 1163.7L228.5 1163.7ZM231.7 1162.8L235.0 1168.2L228.5 1168.2ZM249.3 1146.2L252.6 1151.6L246.1 1151.6ZM249.3 1155.3L252.6 1160.7L246.1 1160.7ZM249.3 1158.8L252.6 1164.2L246.1 1164.2ZM249.3 1161.8L252.6 1167.2L246.1 1167.2ZM249.3 1165.8L252.6 1171.2L246.1 1171.2ZM266.9 1143.3L270.2 1148.7L263.7 1148.7ZM266.9 1152.8L270.2 1158.2L263.7 1158.2ZM266.9 1156.3L270.2 1161.7L263.7 1161.7ZM266.9 1160.3L270.2 1165.7L263.7 1165.7ZM284.5 1144.3L287.8 1149.7L281.3 1149.7ZM284.5 1146.3L287.8 1151.7L281.3 1151.7ZM284.5 1153.6L287.8 1159.0L281.3 1159.0ZM284.5 1162.5L287.8 1167.9L281.3 1167.9ZM302.1 1138.1L305.4 1143.5L298.9 1143.5ZM302.1 1152.3L305.4 1157.7L298.9 1157.7ZM302.1 1157.3L305.4 1162.7L298.9 1162.7ZM319.7 1134.3L323.0 1139.7L316.5 1139.7ZM319.7 1141.8L323.0 1147.2L316.5 1147.2ZM319.7 1145.3L323.0 1150.7L316.5 1150.7ZM319.7 1160.5L323.0 1165.9L316.5 1165.9ZM337.3 1134.3L340.6 1139.7L334.1 1139.7ZM337.3 1142.8L340.6 1148.2L334.1 1148.2ZM337.3 1145.3L340.6 1150.7L334.1 1150.7ZM337.3 1157.3L340.6 1162.7L334.1 1162.7ZM354.9 1116.3L358.1 1121.7L351.6 1121.7ZM354.9 1129.3L358.1 1134.7L351.6 1134.7ZM354.9 1144.9L358.1 1150.2L351.6 1150.2ZM354.9 1155.4L358.1 1160.8L351.6 1160.8ZM372.5 1069.1L375.7 1074.5L369.2 1074.5ZM372.5 1127.6L375.7 1133.0L369.2 1133.0ZM372.5 1144.9L375.7 1150.2L369.2 1150.2ZM390.1 1052.2L393.3 1057.6L386.8 1057.6ZM390.1 1120.8L393.3 1126.2L386.8 1126.2ZM390.1 1125.8L393.3 1131.2L386.8 1131.2ZM390.1 1144.9L393.3 1150.2L386.8 1150.2ZM407.7 1100.3L410.9 1105.7L404.4 1105.7ZM407.7 1103.8L410.9 1109.2L404.4 1109.2ZM407.7 1107.3L410.9 1112.7L404.4 1112.7ZM407.7 1111.8L410.9 1117.2L404.4 1117.2ZM425.3 1089.1L428.5 1094.5L422.0 1094.5ZM425.3 1103.1L428.5 1108.5L422.0 1108.5ZM425.3 1121.0L428.5 1126.4L422.0 1126.4ZM442.9 1013.9L446.1 1019.1L439.6 1019.1ZM442.9 1046.8L446.1 1052.2L439.6 1052.2ZM442.9 1136.6L446.1 1142.0L439.6 1142.0ZM442.9 1148.5L446.1 1153.9L439.6 1153.9ZM460.5 1061.8L463.7 1067.2L457.2 1067.2ZM460.5 1063.8L463.7 1069.2L457.2 1069.2ZM460.5 1081.9L463.7 1087.2L457.2 1087.2ZM460.5 1108.3L463.7 1113.7L457.2 1113.7ZM478.1 1036.4L481.3 1041.8L474.8 1041.8ZM478.1 1067.5L481.3 1072.9L474.8 1072.9ZM478.1 1076.3L481.3 1081.7L474.8 1081.7ZM478.1 1079.8L481.3 1085.2L474.8 1085.2ZM495.7 1022.3L498.9 1027.6L492.4 1027.6ZM495.7 1066.3L498.9 1071.7L492.4 1071.7ZM495.7 1078.4L498.9 1083.8L492.4 1083.8ZM495.7 1087.3L498.9 1092.7L492.4 1092.7ZM513.3 1048.3L516.5 1053.7L510.0 1053.7ZM513.3 1051.8L516.5 1057.2L510.0 1057.2ZM513.3 1070.8L516.5 1076.2L510.0 1076.2Z" fill="#000"/>
<line x1="9" y1="42.45" x2="9" y2="526.2" stroke="#5e5e5e" stroke-width="1.9" stroke-dasharray="2.8 2.425"/>
<line x1="9" y1="707.0" x2="9" y2="1175.6" stroke="#5e5e5e" stroke-width="1.9" stroke-dasharray="2.8 2.425"/>
<path d="M9 31.3L12.4 38.6L5.5 38.6Z" fill="#000"/>
<path d="M9 1184.8L12.4 1177.6L5.5 1177.6Z" fill="#000"/>
<text transform="translate(16.8,699.6) rotate(-90)" font-size="22.5" textLength="165.2" lengthAdjust="spacingAndGlyphs" fill="#000" stroke="#000" stroke-width="0.7">% aggregation</text>
<text x="287.3" y="1235.8" font-size="24" font-weight="bold" text-anchor="middle" fill="#000">RS subjects</text>
</svg></body></html>
